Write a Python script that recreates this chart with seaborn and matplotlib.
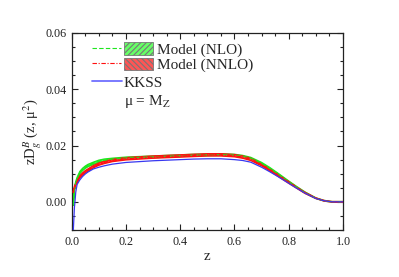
import numpy as np
import pandas as pd
import matplotlib
matplotlib.use("Agg")
import matplotlib.pyplot as plt
import seaborn as sns
from matplotlib.patches import Patch
from matplotlib.lines import Line2D
from matplotlib.legend_handler import HandlerTuple
from matplotlib.ticker import MultipleLocator

# ---- data ----
z = [0.006, 0.008, 0.01, 0.012, 0.015, 0.02, 0.03, 0.04, 0.05, 0.06, 0.08, 0.10,
     0.12, 0.15, 0.20, 0.25, 0.30, 0.35, 0.40, 0.45, 0.50, 0.55, 0.60, 0.63,
     0.66, 0.70, 0.73, 0.76, 0.80, 0.83, 0.86, 0.90, 0.93, 0.96, 1.00]
nlo = [-0.0010, 0.0020, 0.0042, 0.0055, 0.0068, 0.0083, 0.0104, 0.0115, 0.0123, 0.0129,
       0.0137, 0.0144, 0.0148, 0.0152, 0.0156, 0.0158, 0.0160, 0.0162, 0.0164, 0.0166,
       0.0167, 0.0168, 0.0166, 0.0162, 0.0155, 0.0137, 0.0119, 0.0099, 0.0072, 0.0052,
       0.0033, 0.0013, 0.0004, 0.0000, 0.0000]
nnlo = [0.0036, 0.0043, 0.0051, 0.0056, 0.0062, 0.0071, 0.0089, 0.0099, 0.0107, 0.0113,
        0.0125, 0.0134, 0.0140, 0.0147, 0.0153, 0.0156, 0.0159, 0.0161, 0.0163, 0.0165,
        0.0167, 0.0167, 0.0164, 0.0159, 0.0151, 0.0131, 0.0113, 0.0094, 0.0069, 0.0050,
        0.0032, 0.0013, 0.0004, 0.0000, 0.0000]
kkss = [-0.0100, -0.0060, -0.0020, 0.0000, 0.0035, 0.0062, 0.0078, 0.0090, 0.0099, 0.0106,
        0.0117, 0.0123, 0.0128, 0.0134, 0.0140, 0.0143, 0.0146, 0.0148, 0.0150, 0.0152,
        0.0153, 0.0153, 0.0150, 0.0147, 0.0141, 0.0123, 0.0107, 0.0090, 0.0066, 0.0048,
        0.0031, 0.0012, 0.0004, 0.0000, 0.0000]
nlo_err = [0.0003, 0.0003, 0.0004, 0.0004, 0.0004, 0.0004, 0.0004, 0.0004, 0.0004, 0.0004,
           0.0004, 0.0004, 0.0004, 0.0003, 0.0003, 0.0003, 0.0003, 0.0003, 0.0003, 0.0003,
           0.0003, 0.0003, 0.0003, 0.0003, 0.0003, 0.0003, 0.0003, 0.0003, 0.0002, 0.0002,
           0.0002, 0.0001, 0.0001, 0.0001, 0.0001]
nnlo_err = [0.0003, 0.0003, 0.0004, 0.0004, 0.0004, 0.0004, 0.0004, 0.0004, 0.0004, 0.0004,
            0.0004, 0.0004, 0.0004, 0.0004, 0.0004, 0.0004, 0.0004, 0.0004, 0.0004, 0.0004,
            0.0004, 0.0004, 0.0004, 0.0004, 0.0004, 0.0003, 0.0003, 0.0003, 0.0003, 0.0002,
            0.0002, 0.0001, 0.0001, 0.0001, 0.0001]
labels = ["Model (NLO)", "Model (NNLO)", "KKSS"]
x_ticks = [0.0, 0.2, 0.4, 0.6, 0.8, 1.0]
y_ticks = [0.00, 0.02, 0.04, 0.06]

df = pd.DataFrame({"z": z, "nlo": nlo, "nnlo": nnlo, "kkss": kkss,
                   "nlo_err": nlo_err, "nnlo_err": nnlo_err})

sns.set_theme(style="ticks")
plt.rcParams["font.family"] = ["Liberation Serif", "DejaVu Serif"]
plt.rcParams["mathtext.fontset"] = "stix"
plt.rcParams["hatch.linewidth"] = 0.8

GREEN = "#1ee61e"
RED = "#ff1010"
BLUE = "#3838f0"

fig = plt.figure(figsize=(3.99, 2.77), dpi=100)
ax = fig.add_axes([0.1797, 0.1697, 0.6799, 0.7112])

# bands
ax.fill_between(df["z"], df["nlo"] - df["nlo_err"], df["nlo"] + df["nlo_err"],
                facecolor="#55ff55", edgecolor=GREEN, hatch="//////", linewidth=1.0, zorder=2)
ax.fill_between(df["z"], df["nnlo"] - df["nnlo_err"], df["nnlo"] + df["nnlo_err"],
                facecolor="#ff4a4a", edgecolor=RED, hatch="\\\\\\\\\\\\", linewidth=1.0, zorder=3)
sns.lineplot(data=df, x="z", y="nlo", ax=ax, color=GREEN, lw=0.8, ls=(0, (4, 2)), zorder=4)
sns.lineplot(data=df, x="z", y="nnlo", ax=ax, color=RED, lw=0.8, ls=(0, (4, 1.5, 1, 1.5)), zorder=5)
sns.lineplot(data=df, x="z", y="kkss", ax=ax, color=BLUE, lw=0.9, zorder=6)

ax.set_xlim(0, 1.0)
ax.set_ylim(-0.01, 0.06)
ax.set_xticks(x_ticks)
ax.set_xticklabels([f"{t:.1f}" for t in x_ticks])
ax.set_yticks(y_ticks)
ax.set_yticklabels([f"{t:.2f}" for t in y_ticks])
ax.xaxis.set_minor_locator(MultipleLocator(0.05))
ax.yaxis.set_minor_locator(MultipleLocator(0.005))
ax.tick_params(which="both", direction="in", top=True, right=True, width=0.8, colors="#222222")
ax.tick_params(which="major", length=4, labelsize=8.7, pad=3.5)
ax.tick_params(which="minor", length=2)
ax.tick_params(axis="x", which="major", pad=4.5)
for sp in ax.spines.values():
    sp.set_linewidth(0.9)
    sp.set_color("#222222")

ax.set_xlabel("z", fontsize=11, labelpad=1)
ax.set_ylabel(r"zD$_{g}^{B}$ (z, μ$^{2}$)", fontsize=10.5, labelpad=1)

# legends
FS = 11
h_nlo = (Line2D([], [], color=GREEN, lw=0.8, ls=(0, (4, 2))),
         Patch(facecolor="#66ff66", edgecolor="#777777", hatch="//////", lw=0.6))
h_nnlo = (Line2D([], [], color=RED, lw=0.8, ls=(0, (4, 1.5, 1, 1.5))),
          Patch(facecolor="#ff5555", edgecolor="#777777", hatch="\\\\\\\\\\\\", lw=0.6))
leg1 = ax.legend([h_nlo, h_nnlo], labels[:2], handler_map={tuple: HandlerTuple(ndivide=2, pad=0.15)},
                 loc="upper left", bbox_to_anchor=(92 / 399, 1 - 42 / 277),
                 bbox_transform=fig.transFigure, frameon=False, fontsize=FS,
                 handlelength=4.0, handleheight=0.9, handletextpad=0.27,
                 labelspacing=0.05, borderpad=0, borderaxespad=0)
ax.add_artist(leg1)
ax.legend([Line2D([], [], color="#7070ff", lw=1.3)], labels[2:], loc="upper left",
          bbox_to_anchor=(92 / 399, 1 - 76 / 277), bbox_transform=fig.transFigure,
          frameon=False, fontsize=FS, handlelength=1.97, handletextpad=0.1,
          borderpad=0, borderaxespad=0)

fig.text(124 / 399, 1 - 101 / 277, "μ = M$_\\mathrm{Z}$", fontsize=FS, va="center", ha="left")

fig.savefig("out.png", dpi=100)
